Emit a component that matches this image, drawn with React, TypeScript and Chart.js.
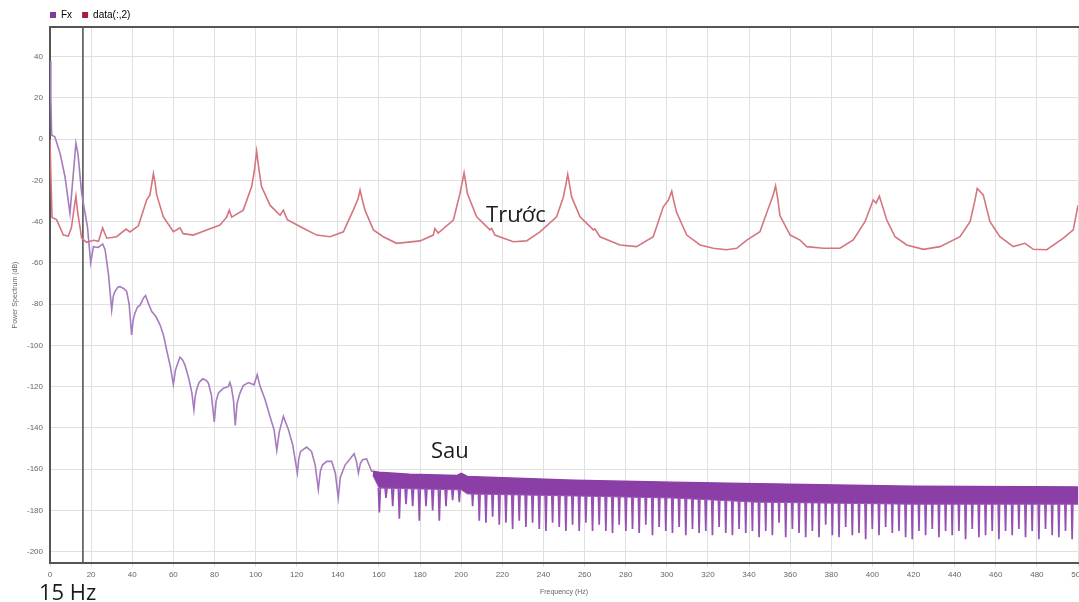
import { useEffect, useRef } from "react";
import { Chart, registerables } from "chart.js";

Chart.register(...registerables);

// ---- axis settings ----
const freqMin = 0;
const freqMax = 500;
const dbMin = -205.5;
const dbMax = 54.4;
const markerHz = 16;
const xTickValues = [0, 20, 40, 60, 80, 100, 120, 140, 160, 180, 200, 220, 240, 260, 280, 300, 320, 340, 360, 380, 400, 420, 440, 460, 480, 500];
const yTickValues = [-200, -180, -160, -140, -120, -100, -80, -60, -40, -20, 0, 20, 40];

// ---- "Sau" (Fx) sparse part: [Hz, dB] ----
const afterSpectrum: [number, number][] = [
  [0, 38], [0.4, 20], [0.8, 2], [2.4, 1.1], [4.9, -6.9], [7.3, -18.2], [9.7, -36],
  [12.6, -2], [13.6, -7], [15.4, -26.3], [18.2, -42.4], [19.8, -59.9], [21.1, -52.1],
  [23.5, -52.5], [25.6, -50.8], [26.8, -53.6], [28.5, -66], [30, -82.8], [30.8, -76], [31.6, -73.9],
  [33, -71.8], [34, -71.5], [36, -72.5], [37.3, -73.9], [38.5, -80], [39.7, -94.9], [40.4, -88],
  [41.3, -84.4], [42.5, -81.5], [43.8, -80.5], [45.5, -77], [46.5, -75.8], [47.8, -79.5],
  [49.5, -83.6], [51.5, -86], [53.5, -90], [55.2, -95], [56.7, -102.1], [58.5, -110], [60, -119],
  [61, -112], [61.6, -110.2], [63.2, -105.7], [64.5, -107], [65.6, -109.4], [67.5, -116], [69, -123],
  [70, -131.2], [70.6, -125], [71.3, -121.5], [72.5, -118], [74.3, -116.2], [76, -117], [77, -118.2],
  [78.5, -124], [79.9, -137.1], [80.8, -127], [81.9, -123.1], [84.3, -120.7], [86.7, -120],
  [87.5, -118], [88.3, -120.7], [89.3, -127], [90.1, -138.8], [91, -128], [92.4, -123.1], [94, -119.5],
  [96.5, -118], [99.2, -119.1], [100.8, -114.2], [102.1, -119.6], [104.5, -126], [107, -134.4],
  [109, -141], [110.3, -150.9], [111.5, -142], [113.5, -134.4], [115.9, -140.6], [118, -148],
  [120.3, -161.8], [121, -155], [121.9, -151.4], [124.8, -149.3], [127.2, -151.4], [129, -158],
  [130.5, -169.9], [131.5, -161], [132.5, -158], [134.6, -156.2], [137, -156.2], [138.8, -162],
  [140.2, -173.9], [141.2, -164], [143.5, -158], [146, -155], [147.9, -152.5], [149, -156],
  [150, -161.8], [151, -157], [152.1, -155.4], [154, -155], [155, -157.5], [156.4, -161], [157.3, -161],
];

// ---- "Trước" (data(:,2)): [Hz, dB] ----
const beforeSpectrum: [number, number][] = [
  [0, 0], [0.5, -20], [1, -38], [3.2, -39], [6.5, -46.5], [8.9, -47], [10.4, -43], [11.8, -33], [12.6, -27.6],
  [13.4, -35], [15.4, -48], [17.8, -50], [21.2, -49], [23.6, -49.5], [25.6, -43], [27.6, -48], [32.4, -47.3],
  [37, -43.6], [38.9, -45], [43, -42], [47, -29.5], [48.6, -27], [49.6, -21], [50.3, -16.6], [51.1, -21],
  [51.9, -27], [55.1, -37.6], [60, -44.9], [63.2, -43], [64.8, -45.8], [69.7, -46.5], [76.2, -44], [82.7, -41.6],
  [85.9, -37.8], [87.2, -34.4], [88.4, -37.8], [94, -34.4], [98.1, -23], [99.4, -15.3], [100.5, -5.8],
  [101.7, -15.3], [102.9, -23], [107, -32], [111.9, -36.9], [113.5, -34.4], [115.4, -39], [123.2, -43.2],
  [129.7, -46.5], [136.2, -47.3], [142.7, -44.9], [147.5, -34.4], [149.8, -29], [150.8, -24.7],
  [151.8, -29], [153.2, -34.4], [157.3, -44], [162.1, -47.3], [168.6, -50.5], [180, -49.3], [186.4, -46.5],
  [187.2, -43.3], [188.8, -45.5], [196.2, -39.2], [199.4, -26.3], [200.5, -21], [201.4, -16.3], [202.2, -21],
  [203, -26.3], [207.5, -37.6], [214, -44], [214.8, -43.3], [216.4, -46.5], [225.3, -49.7], [231.8, -49.3],
  [238.3, -44.9], [246.4, -37.6], [249.7, -28], [250.9, -22], [251.8, -17.1], [252.7, -22], [253.7, -28],
  [257.8, -37.6], [264.3, -44], [265, -43.5], [267.5, -47.3], [277.2, -51.3], [285.3, -52.1], [293.4, -47.3],
  [298.3, -32.8], [300.8, -29.5], [302.4, -25.2], [303.4, -30], [304.8, -35.6], [309.7, -46.5], [316.2, -51.3],
  [322.6, -52.9], [329, -53.6], [334, -52.9], [338.9, -48.9], [345.3, -44.9], [349.4, -33.5], [351.8, -27],
  [352.9, -22.6], [354, -29], [355, -37], [360, -46.5], [364.8, -48.9], [368, -52.1], [376.1, -52.9],
  [384.2, -52.9], [390.7, -48.9], [396.4, -40], [400.4, -29.5], [401.8, -31], [403.4, -27.6], [407, -39.2],
  [411, -47.3], [416.7, -51.3], [424.8, -53.4], [432.9, -52.1], [442.6, -47.3], [447.5, -40], [449.8, -30],
  [451, -23.9], [453.9, -27], [457.2, -40], [462, -47.3], [468.5, -52.1], [474.2, -50.5], [478.3, -53.4],
  [484.8, -53.6], [492.9, -48], [497.7, -44], [500, -32],
];

// ---- "Sau" dense band (above 157 Hz) ----
const bandFreq = [157, 160, 175, 198, 200, 203, 255, 303, 344, 420, 500];
const bandTopDb = [-161, -161.5, -162.5, -163, -162, -163.5, -165.4, -166.3, -167, -168.3, -168.6];
const bandBottomDb = [-163, -169, -169.5, -170, -170, -172, -173, -174, -176, -177, -177];

// ---- deep dips inside the dense band ----
const dipStartHz = 160.2;
const dipStepHz = 3.24;
const spikeBaseDb = -169;
const dipDb = [
  -181, -174, -178, -184, -177, -178, -185, -178, -180, -185, -178, -175, -176, -170, -178,
  -185, -186, -183, -187, -186, -189, -185, -188, -186, -189, -190, -186, -188, -190, -187,
  -190, -186, -190, -187, -190, -191, -187, -190, -189, -191, -187, -192, -188, -190, -191,
  -188, -192, -189, -191, -190, -192, -188, -191, -192, -189, -191, -190,
  -193, -190, -192, -186, -193, -189, -191, -193, -190, -193, -187, -192, -193, -188, -192,
  -191, -194, -189, -192, -188, -191, -190, -193, -194, -190, -192, -189, -193, -190, -192,
  -190, -194, -189, -193, -192, -190, -194, -190, -192, -189, -193, -190, -194, -189, -192,
  -193, -190, -194,
];

// ---- text annotations (placed in data units) ----
const annotationText = ["Trước", "Sau", "15 Hz"];
const annotationHz = [212.1, 185.3, -5.35];
const annotationDb = [-40, -154.7, -223.4];

const legendNames = ["Fx", "data(:,2)"];
const legendColors = ["#7d3c98", "#a51c3c"];

const tickFont = { family: "'Liberation Sans', Arial, sans-serif", size: 8 };

export default function App() {
  const ref = useRef<HTMLCanvasElement | null>(null);

  useEffect(() => {
    if (!ref.current) return;
    const bandColor = "#8a3ea6";

    const dipPoints: { x: number; y: number }[] = [];
    dipDb.forEach((d, i) => {
      const f = dipStartHz + i * dipStepHz;
      dipPoints.push({ x: f - 0.5, y: spikeBaseDb });
      dipPoints.push({ x: f, y: d });
      dipPoints.push({ x: f + 0.5, y: spikeBaseDb });
    });

    const frame = {
      id: "frame",
      afterLayout(chart: any) {
        const lg = chart.legend;
        if (lg) {
          lg.left -= 10;
          lg.right -= 10;
        }
      },
      beforeDatasetsDraw(chart: any) {
        const { ctx, chartArea } = chart;
        ctx.save();
        ctx.strokeStyle = "#555";
        ctx.lineWidth = 2;
        ctx.beginPath();
        ctx.moveTo(chartArea.left, chartArea.top);
        ctx.lineTo(chartArea.right + 2, chartArea.top);
        ctx.stroke();
        ctx.restore();
      },
      afterDraw(chart: any) {
        const { ctx } = chart;
        const xs = chart.scales.x;
        const ys = chart.scales.y;
        ctx.save();
        ctx.font = "22px 'Open Sans', sans-serif";
        ctx.fillStyle = "#1c1c1c";
        ctx.textAlign = "left";
        ctx.textBaseline = "alphabetic";
        annotationText.forEach((t, i) => {
          ctx.fillText(t, xs.getPixelForValue(annotationHz[i]), ys.getPixelForValue(annotationDb[i]));
        });
        ctx.restore();
      },
    };

    const chart = new Chart(ref.current, {
      type: "line",
      data: {
        datasets: [
          {
            label: "Fx",
            data: afterSpectrum.map(([x, y]) => ({ x, y })),
            borderColor: "#a67bbf",
            borderWidth: 1.6,
            pointRadius: 0,
            fill: false,
          },
          {
            label: "data(:,2)",
            data: beforeSpectrum.map(([x, y]) => ({ x, y })),
            borderColor: "#d4757f",
            borderWidth: 1.6,
            pointRadius: 0,
            fill: false,
          },
          {
            label: "bandTop",
            data: bandFreq.map((x, i) => ({ x, y: bandTopDb[i] })),
            borderColor: bandColor,
            borderWidth: 1.4,
            pointRadius: 0,
            fill: false,
          },
          {
            label: "bandBottom",
            data: bandFreq.map((x, i) => ({ x, y: bandBottomDb[i] })),
            borderColor: "#9a55b8",
            backgroundColor: bandColor,
            borderWidth: 1,
            pointRadius: 0,
            fill: "-1",
          },
          {
            label: "dips",
            data: dipPoints,
            borderColor: "#9650b4",
            borderWidth: 1.7,
            pointRadius: 0,
            fill: false,
          },
          {
            label: "marker",
            data: [
              { x: markerHz, y: dbMin },
              { x: markerHz, y: dbMax },
            ],
            borderColor: "#555",
            borderWidth: 1.6,
            pointRadius: 0,
            fill: false,
          },
        ],
      },
      options: {
        animation: false,
        responsive: true,
        maintainAspectRatio: false,
        parsing: false as any,
        layout: { padding: { left: 0, right: 1, top: 0, bottom: 0 } },
        plugins: {
          tooltip: { enabled: false },
          legend: {
            display: true,
            position: "top",
            align: "start",
            fullSize: false,
            maxHeight: 27,
            labels: {
              boxWidth: 6,
              boxHeight: 6,
              padding: 10,
              color: "#666",
              font: { family: "'Liberation Sans', Arial, sans-serif", size: 10 },
              generateLabels: () =>
                legendNames.map((n, i) => ({
                  text: n,
                  fillStyle: legendColors[i],
                  strokeStyle: legendColors[i],
                  lineWidth: 0,
                  hidden: false,
                  datasetIndex: i,
                })),
            },
          },
        },
        scales: {
          x: {
            type: "linear",
            min: freqMin,
            max: freqMax,
            afterBuildTicks(s: any) {
              s.ticks = xTickValues.map((value) => ({ value }));
            },
            ticks: { padding: 3, color: "#666", font: tickFont, maxRotation: 0, autoSkip: false },
            grid: { color: "#e0e0e0", lineWidth: 1, drawTicks: true, tickLength: 4 },
            border: { color: "#555", width: 2 },
            title: {
              display: true,
              text: "Frequency (Hz)",
              color: "#666",
              font: { family: "'Liberation Sans', Arial, sans-serif", size: 7 },
              padding: { top: 0, bottom: 6 },
            },
            afterFit(s: any) {
              s.height = 39;
              s.paddingLeft = 0;
              s.paddingRight = 0;
            },
          },
          y: {
            type: "linear",
            min: dbMin,
            max: dbMax,
            afterBuildTicks(s: any) {
              s.ticks = yTickValues.map((value) => ({ value }));
            },
            ticks: { padding: 7, color: "#666", font: tickFont, autoSkip: false },
            grid: { color: "#e0e0e0", lineWidth: 1, drawTicks: false },
            border: { color: "#555", width: 2 },
            title: {
              display: true,
              text: "Power Spectrum (dB)",
              color: "#666",
              font: { family: "'Liberation Sans', Arial, sans-serif", size: 7 },
              padding: { top: 11, bottom: 0 },
            },
            afterFit(s: any) {
              s.width = 50;
              s.paddingTop = 0;
              s.paddingBottom = 0;
            },
          },
        },
      },
      plugins: [frame],
    } as any);

    return () => chart.destroy();
  }, []);

  return (
    <div style={{ position: "fixed", left: 0, top: 0, width: 1079, height: 602, background: "#fff" }}>
      <canvas ref={ref} />
    </div>
  );
}
